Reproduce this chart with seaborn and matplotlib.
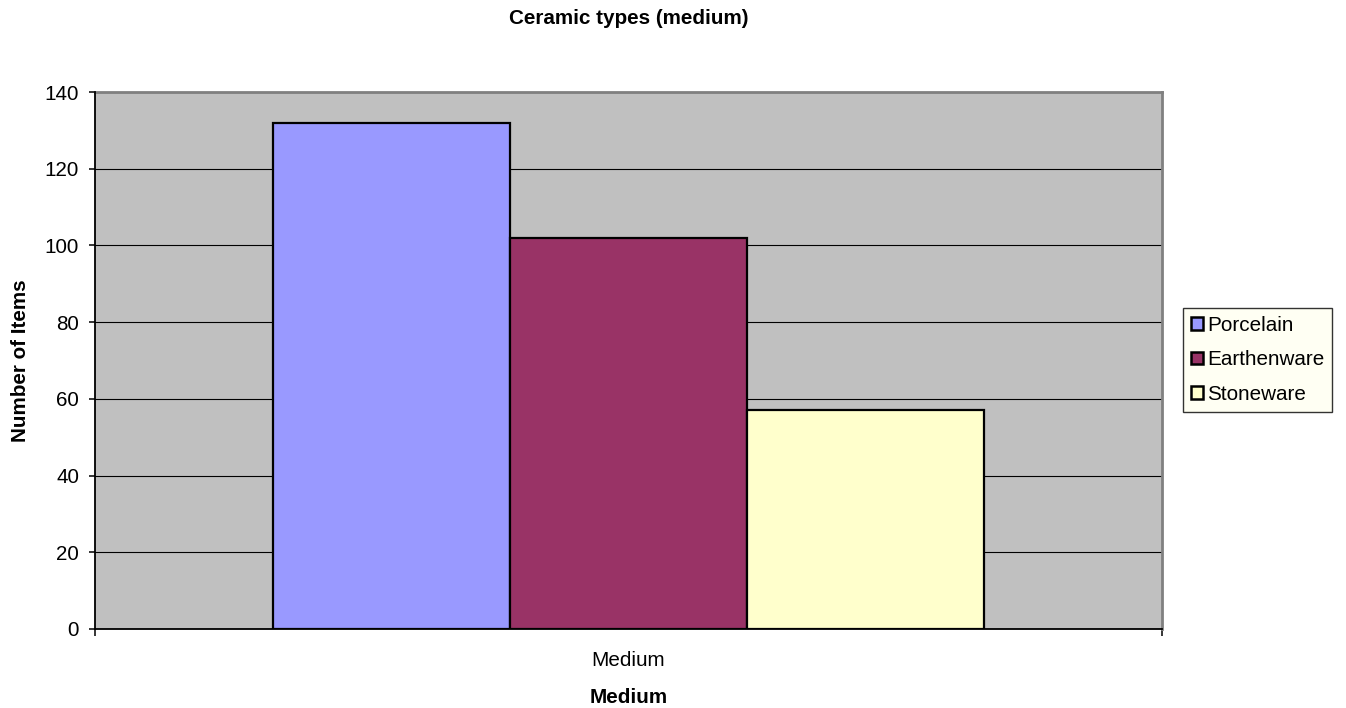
import matplotlib
matplotlib.use("Agg")
import matplotlib.pyplot as plt
import seaborn as sns
import pandas as pd

# Data
categories = ["Medium"]
ceramic_types = ["Porcelain", "Earthenware", "Stoneware"]
item_counts = [132, 102, 57]
type_colors = ["#9999FF", "#993366", "#FFFFCC"]
y_ticks = [0, 20, 40, 60, 80, 100, 120, 140]

df = pd.DataFrame({
    "medium": categories * len(ceramic_types),
    "type": ceramic_types,
    "count": item_counts,
})

sns.set_theme(style="white")
plt.rcParams["font.family"] = ["Liberation Sans", "DejaVu Sans"]
plt.rcParams["text.color"] = "black"
FS = 14.9

fig = plt.figure(figsize=(13.46, 7.08), dpi=100)
ax = fig.add_axes([95 / 1346, 1 - 629 / 708, (1162 - 95) / 1346, (629 - 92) / 708])
ax.set_facecolor("#C0C0C0")

sns.barplot(
    data=df, x="medium", y="count", hue="type", hue_order=ceramic_types,
    palette=type_colors, width=0.666, saturation=1, edgecolor="black",
    linewidth=1.6, ax=ax, legend=True, zorder=3,
)

ax.set_xlim(-0.5, 0.5)
ax.set_ylim(0, 140)
ax.set_yticks(y_ticks)
ax.set_yticklabels([str(v) for v in y_ticks], fontsize=FS, color="black")
ax.yaxis.grid(True, color="black", linewidth=0.8, zorder=1)
ax.set_axisbelow(True)

# Category tick labels; ticks drawn at category boundaries
ax.set_xticks([0])
ax.set_xticklabels(categories, fontsize=FS, color="black")
ax.set_xticks([-0.5, 0.5], minor=True)
ax.tick_params(axis="x", which="major", length=0, pad=16)
ax.tick_params(axis="x", which="minor", length=5, width=1.1, color="black", direction="out", bottom=True)
ax.tick_params(axis="y", length=4.3, width=1.1, color="black", direction="out", left=True, pad=7.2)

for side in ["top", "right"]:
    ax.spines[side].set_color("#808080")
    ax.spines[side].set_linewidth(2)
for side in ["left", "bottom"]:
    ax.spines[side].set_color("black")
    ax.spines[side].set_linewidth(1.3)
    ax.spines[side].set_zorder(5)

ax.set_xlabel("Medium", fontsize=FS, fontweight="bold", color="black", labelpad=13)
ax.set_ylabel("Number of Items", fontsize=FS, fontweight="bold", color="black", labelpad=10.5)
fig.text(0.5 * (95 + 1162) / 1346, 1 - 18 / 708, "Ceramic types (medium)",
         ha="center", va="center", fontsize=FS, fontweight="bold", color="black")

handles, labels = ax.get_legend_handles_labels()
leg = ax.legend(
    handles, labels, loc="center left",
    bbox_to_anchor=(1183 / 1346, 1 - 360 / 708), bbox_transform=fig.transFigure,
    fontsize=FS, frameon=True, fancybox=False, shadow=False,
    handlelength=0.55, handleheight=0.55, handletextpad=0.2,
    labelspacing=0.75, borderpad=0.4, borderaxespad=0,
)
leg.get_frame().set_facecolor("#FFFFF0")
leg.get_frame().set_edgecolor("black")
leg.get_frame().set_linewidth(1)
for t in leg.get_texts():
    t.set_color("black")
for h in leg.legend_handles:
    h.set_edgecolor("black")
    h.set_linewidth(1.8)

fig.savefig("out.png", dpi=100, facecolor="white")
